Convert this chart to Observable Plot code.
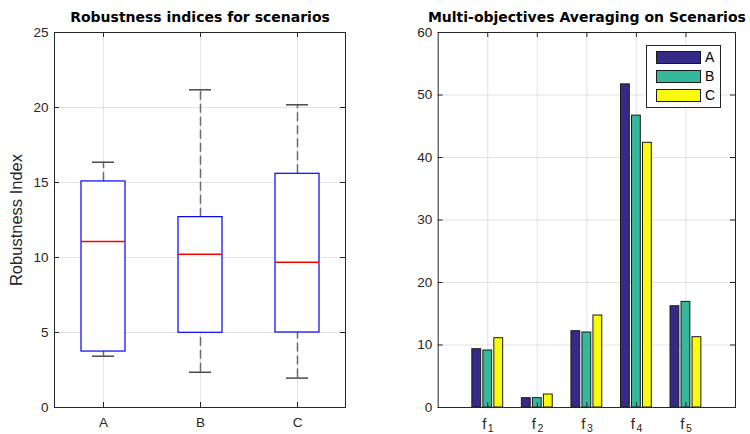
<!DOCTYPE html>
<html>
<head>
<meta charset="utf-8">
<script src="https://cdn.jsdelivr.net/npm/d3@7"></script>
<script src="https://cdn.jsdelivr.net/npm/@observablehq/plot@0.6"></script>
<style>
  html, body { margin: 0; padding: 0; background: #fff; }
  #root { position: relative; width: 750px; height: 434px; overflow: hidden; background: #fff;
          font-family: "Liberation Sans", Arial, sans-serif; }
  #root > svg { position: absolute; top: 0; }
  .legend { position: absolute; border: 1px solid #262626; background: #fff; box-sizing: border-box; }
  .legend .row { position: absolute; left: 9px; height: 14px; display: flex; align-items: center; }
  .legend .sw { width: 45px; height: 13px; border: 1px solid #1a1a1a; box-sizing: border-box; }
  .legend .lb { margin-left: 4px; font-size: 14px; color: #000; }
</style>
</head>
<body>
<div id="root"></div>
<script>
// ---- Data: robustness box plot ----
const scenarios = ["A", "B", "C"];
const boxLow    = [3.42, 2.35, 1.96];
const boxQ1     = [3.73, 4.98, 5.00];
const boxMedian = [11.07, 10.22, 9.69];
const boxQ3     = [15.07, 12.69, 15.58];
const boxHigh   = [16.35, 21.18, 20.18];
const robustTicks = [0, 5, 10, 15, 20, 25];
const leftTitle = "Robustness indices for scenarios";
const leftYLabel = "Robustness Index";

// ---- Data: multi-objective averages ----
const objectives = ["f1", "f2", "f3", "f4", "f5"];
const avgA = [9.33, 1.49, 12.21, 51.7, 16.2];
const avgB = [9.12, 1.50, 12.00, 46.7, 16.9];
const avgC = [11.09, 2.08, 14.72, 42.35, 11.25];
const avgTicks = [0, 10, 20, 30, 40, 50, 60];
const seriesColors = ["#352a87", "#35b79b", "#f9fb0e"];
const rightTitle = "Multi-objectives Averaging on Scenarios";

const font = "'Liberation Sans', Arial, sans-serif";
const titleFont = "'DejaVu Sans', 'Liberation Sans', sans-serif";
const ink = "#262626";
const gridOpacity = 0.13;
const tickFont = 13.5;

// ---------- Left panel ----------
const boxes = scenarios.map((s, i) => ({
  cat: s, lo: boxLow[i], q1: boxQ1[i], med: boxMedian[i], q3: boxQ3[i], hi: boxHigh[i]
}));
const L = { w: 375, h: 434, ml: 54, mr: 30, mt: 32, mb: 27 };
const Lfw = L.w - L.ml - L.mr, Lfh = L.h - L.mt - L.mb;

const left = Plot.plot({
  width: L.w, height: L.h,
  marginLeft: L.ml, marginRight: L.mr, marginTop: L.mt, marginBottom: L.mb,
  style: { fontFamily: font, background: "transparent", color: ink, overflow: "visible" },
  x: { type: "band", domain: scenarios, paddingInner: 0.55, paddingOuter: 0.275, axis: null },
  y: { domain: [0, 25], axis: null },
  marks: [
    Plot.gridX(scenarios, { stroke: ink, strokeOpacity: gridOpacity }),
    Plot.gridY(robustTicks, { stroke: ink, strokeOpacity: gridOpacity }),
    Plot.ruleX(boxes, { x: "cat", y1: "q3", y2: "hi", stroke: "#6a6a6a", strokeWidth: 1.5, strokeDasharray: "9,4" }),
    Plot.ruleX(boxes, { x: "cat", y1: "lo", y2: "q1", stroke: "#6a6a6a", strokeWidth: 1.5, strokeDasharray: "9,4" }),
    Plot.tickY(boxes, { x: "cat", y: "hi", insetLeft: 11, insetRight: 11, stroke: "#4a4a4a", strokeWidth: 1.5 }),
    Plot.tickY(boxes, { x: "cat", y: "lo", insetLeft: 11, insetRight: 11, stroke: "#4a4a4a", strokeWidth: 1.5 }),
    Plot.barY(boxes, { x: "cat", y1: "q1", y2: "q3", fill: "white", stroke: "#0000ff", strokeWidth: 1.2 }),
    Plot.tickY(boxes, { x: "cat", y: "med", stroke: "#ff0000", strokeWidth: 1.5 }),
    Plot.frame({ stroke: ink, strokeWidth: 1 }),
    // inward tick marks (left, right, bottom, top)
    Plot.ruleY(robustTicks, { insetRight: Lfw - 5, stroke: ink }),
    Plot.ruleY(robustTicks, { insetLeft: Lfw - 5, stroke: ink }),
    Plot.ruleX(scenarios, { insetTop: Lfh - 5, stroke: ink }),
    Plot.ruleX(scenarios, { insetBottom: Lfh - 5, stroke: ink }),
    Plot.axisY({ ticks: robustTicks, tickSize: 0, tickPadding: 6, fontSize: tickFont, label: null, fill: ink }),
    Plot.axisX({ ticks: scenarios, tickSize: 0, tickPadding: 10, fontSize: tickFont, label: null, fill: ink }),
    Plot.text([leftYLabel], { frameAnchor: "left", dx: -37.5, rotate: -90, fontSize: 16.5,
      textAnchor: "middle", lineAnchor: "middle", fill: ink }),
    Plot.text([leftTitle], { frameAnchor: "top", dy: -15, fontSize: 14, fontWeight: "bold",
      fontFamily: titleFont, textAnchor: "middle", lineAnchor: "middle", fill: "#000" })
  ]
});
left.style.left = "0px";

// ---------- Right panel ----------
const series = [avgA, avgB, avgC];
const bars = objectives.flatMap((o, i) => series.map((arr, s) => ({
  obj: o, gi: i + 1, s, series: scenarios[s], value: arr[i]
})));
const groupStep = 0.2222, barW = 0.178;
const R = { w: 375, h: 434, ml: 62.7, mr: 15, mt: 32, mb: 27 };
const Rfw = R.w - R.ml - R.mr, Rfh = R.h - R.mt - R.mb;
const xPos = objectives.map((o, i) => i + 1);

const right = Plot.plot({
  width: R.w, height: R.h,
  marginLeft: R.ml, marginRight: R.mr, marginTop: R.mt, marginBottom: R.mb,
  style: { fontFamily: font, background: "transparent", color: ink, overflow: "visible" },
  x: { domain: [0, objectives.length + 1], axis: null },
  y: { domain: [0, 60], axis: null },
  color: { domain: scenarios, range: seriesColors },
  marks: [
    Plot.gridX(xPos, { stroke: ink, strokeOpacity: gridOpacity }),
    Plot.gridY(avgTicks, { stroke: ink, strokeOpacity: gridOpacity }),
    Plot.rectY(bars, {
      x1: d => d.gi + (d.s - 1) * groupStep - barW / 2,
      x2: d => d.gi + (d.s - 1) * groupStep + barW / 2,
      y1: 0, y2: "value", fill: "series", stroke: "#1a1a1a", strokeWidth: 1
    }),
    Plot.frame({ stroke: ink, strokeWidth: 1 }),
    Plot.ruleY(avgTicks, { insetRight: Rfw - 5, stroke: ink }),
    Plot.ruleY(avgTicks, { insetLeft: Rfw - 5, stroke: ink }),
    Plot.ruleX(xPos, { insetTop: Rfh - 5, stroke: ink }),
    Plot.ruleX(xPos, { insetBottom: Rfh - 5, stroke: ink }),
    Plot.axisY({ ticks: avgTicks, tickSize: 0, tickPadding: 6, fontSize: tickFont, label: null, fill: ink }),
    // x tick labels: "f" with subscript index
    Plot.text(objectives, { x: (d, i) => i + 1, text: d => d.slice(0, 1), frameAnchor: "bottom",
      dy: 17, dx: -3.5, fontSize: 15, lineAnchor: "middle", textAnchor: "middle", fill: ink }),
    Plot.text(objectives, { x: (d, i) => i + 1, text: d => d.slice(1), frameAnchor: "bottom",
      dy: 21, dx: 3, fontSize: 10.5, lineAnchor: "middle", textAnchor: "middle", fill: ink }),
    Plot.text([rightTitle], { frameAnchor: "top", dy: -15, fontSize: 14, fontWeight: "bold",
      fontFamily: titleFont, textAnchor: "middle", lineAnchor: "middle", fill: "#000" })
  ]
});
right.style.left = "375px";

const root = document.getElementById("root");
root.appendChild(left);
root.appendChild(right);

// Legend (HTML overlay inside right axes)
const legend = document.createElement("div");
legend.className = "legend";
legend.style.left = "646px";
legend.style.top = "45px";
legend.style.width = "75px";
legend.style.height = "63px";
scenarios.forEach((s, i) => {
  const row = document.createElement("div");
  row.className = "row";
  row.style.top = (4 + i * 19) + "px";
  const sw = document.createElement("div");
  sw.className = "sw";
  sw.style.background = seriesColors[i];
  const lb = document.createElement("span");
  lb.className = "lb";
  lb.textContent = s;
  row.appendChild(sw);
  row.appendChild(lb);
  legend.appendChild(row);
});
root.appendChild(legend);
</script>
</body>
</html>
